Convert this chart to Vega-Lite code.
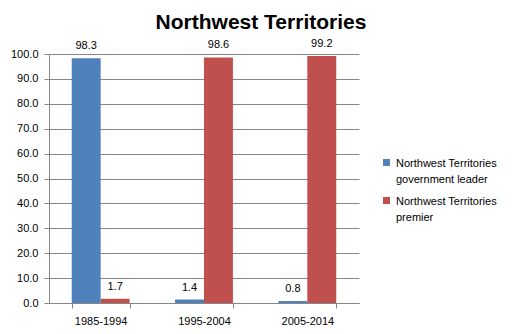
{
  "$schema": "https://vega.github.io/schema/vega-lite/v6.json",
  "width": 310,
  "height": 249,
  "autosize": {"type": "none"},
  "padding": {"left": 49, "top": 54, "right": 164, "bottom": 31},
  "background": "white",
  "title": {
    "text": "Northwest Territories",
    "font": "Liberation Sans",
    "fontSize": 21,
    "fontWeight": "bold",
    "color": "#000000",
    "anchor": "middle",
    "dx": 57,
    "offset": 5
  },
  "data": {
    "values": [
      {"period": "1985-1994", "series": "Northwest Territories government leader", "value": 98.3},
      {"period": "1985-1994", "series": "Northwest Territories premier", "value": 1.7},
      {"period": "1995-2004", "series": "Northwest Territories government leader", "value": 1.4},
      {"period": "1995-2004", "series": "Northwest Territories premier", "value": 98.6},
      {"period": "2005-2014", "series": "Northwest Territories government leader", "value": 0.8},
      {"period": "2005-2014", "series": "Northwest Territories premier", "value": 99.2}
    ]
  },
  "encoding": {
    "x": {
      "field": "period",
      "type": "nominal",
      "title": null,
      "scale": {"paddingInner": 0.44, "paddingOuter": 0.22},
      "axis": {
        "labelAngle": 0,
        "labelFont": "Liberation Sans",
        "labelFontSize": 11,
        "labelColor": "#000000",
        "labelPadding": 7,
        "tickBand": "extent",
        "tickSize": 5,
        "tickColor": "#868686",
        "domainColor": "#868686",
        "grid": false
      }
    },
    "xOffset": {"field": "series", "type": "nominal"},
    "y": {
      "field": "value",
      "type": "quantitative",
      "title": null,
      "scale": {"domain": [0, 100], "nice": false},
      "axis": {
        "values": [0, 10, 20, 30, 40, 50, 60, 70, 80, 90, 100],
        "format": ".1f",
        "labelFont": "Liberation Sans",
        "labelFontSize": 11,
        "labelColor": "#000000",
        "labelPadding": 6,
        "tickSize": 5,
        "tickColor": "#868686",
        "domainColor": "#868686",
        "gridColor": "#868686",
        "grid": true
      }
    }
  },
  "layer": [
    {
      "mark": {"type": "bar"},
      "encoding": {
        "color": {
          "field": "series",
          "type": "nominal",
          "scale": {"range": ["#4F81BD", "#C0504D"]},
          "legend": {
            "title": null,
            "orient": "none",
            "legendX": 332,
            "legendY": 103,
            "symbolType": "square",
            "symbolSize": 49,
            "symbolStrokeWidth": 0,
            "labelFont": "Liberation Sans",
            "labelFontSize": 11,
            "labelColor": "#000000",
            "labelOffset": 4,
            "rowPadding": 10,
            "labelLimit": 200,
            "labelExpr": "datum.label == 'Northwest Territories government leader' ? ['Northwest Territories', 'government leader'] : ['Northwest Territories', 'premier']",
            "encode": {
              "labels": {"update": {"lineHeight": {"value": 16}, "dy": {"value": 1}}}
            }
          }
        }
      }
    },
    {
      "mark": {"type": "text", "baseline": "bottom", "dy": -7, "font": "Liberation Sans", "fontSize": 11, "color": "#000000"},
      "encoding": {
        "text": {"field": "value", "type": "quantitative", "format": ".1f"}
      }
    }
  ],
  "config": {"view": {"stroke": null}}
}
